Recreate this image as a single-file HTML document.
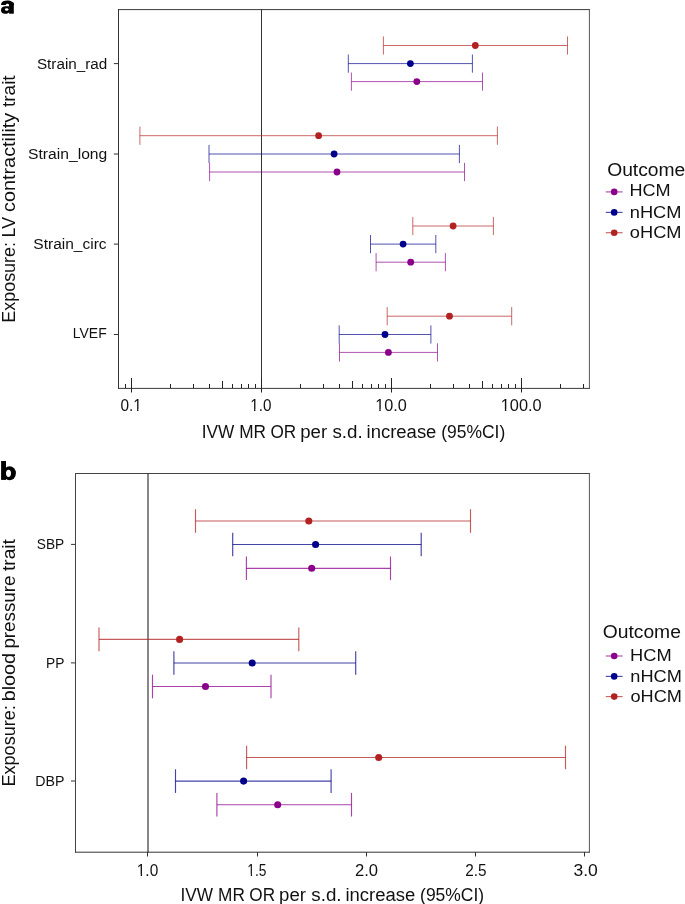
<!DOCTYPE html>
<html><head><meta charset="utf-8"><style>html,body{margin:0;padding:0;background:#fff;width:685px;height:904px;overflow:hidden}</style></head>
<body>
<svg width="685" height="904" viewBox="0 0 685 904" style="display:block;font-family:'Liberation Sans', sans-serif;will-change:transform">
<rect width="685" height="904" fill="#fff"/>
<g fill="#000"><rect x="9.1" y="2.6" width="4.7" height="11.1"/><path d="M1.1,5.1 L1.1,4.0 C1.7,1.6 4.1,0.6 7.3,0.6 C11.3,0.6 13.8,2.0 13.8,5.6 L9.1,5.6 C9.1,4.3 8.5,3.7 7.3,3.7 C6.2,3.7 5.9,4.4 5.8,5.1 Z"/><path d="M9.4,6.3 L5.6,6.3 C2.6,6.3 1.0,7.9 1.0,10.2 C1.0,12.5 2.6,13.8 5.3,13.8 C7.3,13.8 8.7,13.0 9.4,12.0 Z"/><ellipse cx="6.7" cy="9.6" rx="1.75" ry="1.25" fill="#fff"/></g>
<g stroke-width="1" stroke-linecap="square"><line x1="118.5" y1="9.6" x2="589.4" y2="9.6" stroke="#3a3a3a"/><line x1="118.5" y1="388.4" x2="589.4" y2="388.4" stroke="#3a3a3a"/><line x1="118.5" y1="9.6" x2="118.5" y2="388.4" stroke="#333"/><line x1="589.4" y1="9.6" x2="589.4" y2="388.4" stroke="#555"/></g>
<line x1="261.5" y1="9.5" x2="261.5" y2="388.5" stroke="#333333" stroke-width="1"/>
<g stroke="#222" stroke-width="1"><line x1="125.5" y1="384" x2="125.5" y2="388"/><line x1="131.5" y1="378" x2="131.5" y2="392.5"/><line x1="170.5" y1="384" x2="170.5" y2="388"/><line x1="193.5" y1="384" x2="193.5" y2="388"/><line x1="209.5" y1="384" x2="209.5" y2="388"/><line x1="222.5" y1="381" x2="222.5" y2="388"/><line x1="232.5" y1="384" x2="232.5" y2="388"/><line x1="241.5" y1="384" x2="241.5" y2="388"/><line x1="248.5" y1="384" x2="248.5" y2="388"/><line x1="255.5" y1="384" x2="255.5" y2="388"/><line x1="261.5" y1="378" x2="261.5" y2="392.5"/><line x1="300.5" y1="384" x2="300.5" y2="388"/><line x1="323.5" y1="384" x2="323.5" y2="388"/><line x1="339.5" y1="384" x2="339.5" y2="388"/><line x1="352.5" y1="381" x2="352.5" y2="388"/><line x1="362.5" y1="384" x2="362.5" y2="388"/><line x1="371.5" y1="384" x2="371.5" y2="388"/><line x1="378.5" y1="384" x2="378.5" y2="388"/><line x1="385.5" y1="384" x2="385.5" y2="388"/><line x1="391.5" y1="378" x2="391.5" y2="392.5"/><line x1="430.5" y1="384" x2="430.5" y2="388"/><line x1="453.5" y1="384" x2="453.5" y2="388"/><line x1="469.5" y1="384" x2="469.5" y2="388"/><line x1="482.5" y1="381" x2="482.5" y2="388"/><line x1="492.5" y1="384" x2="492.5" y2="388"/><line x1="501.5" y1="384" x2="501.5" y2="388"/><line x1="508.5" y1="384" x2="508.5" y2="388"/><line x1="515.5" y1="384" x2="515.5" y2="388"/><line x1="521.5" y1="378" x2="521.5" y2="392.5"/><line x1="560.5" y1="384" x2="560.5" y2="388"/><line x1="583.5" y1="384" x2="583.5" y2="388"/></g>
<g stroke="#333333" stroke-width="1"><line x1="113.8" y1="63.6" x2="118" y2="63.6"/><line x1="113.8" y1="154.0" x2="118" y2="154.0"/><line x1="113.8" y1="244.1" x2="118" y2="244.1"/><line x1="113.8" y1="334.5" x2="118" y2="334.5"/></g>
<text x="36.91" y="68.60" font-size="15.20" font-weight="normal" textLength="70.38" lengthAdjust="spacingAndGlyphs" fill="#111">Strain_rad</text>
<text x="28.09" y="158.60" font-size="15.20" font-weight="normal" textLength="79.22" lengthAdjust="spacingAndGlyphs" fill="#111">Strain_long</text>
<text x="33.30" y="248.60" font-size="15.20" font-weight="normal" textLength="73.31" lengthAdjust="spacingAndGlyphs" fill="#111">Strain_circ</text>
<text x="72.79" y="338.40" font-size="15.20" font-weight="normal" textLength="33.96" lengthAdjust="spacingAndGlyphs" fill="#111">LVEF</text>
<text x="120.40" y="410.60" font-size="16.00" font-weight="normal" textLength="21.35" lengthAdjust="spacingAndGlyphs" fill="#111">0.1</text><rect x="133.00" y="409" width="4.05" height="3" fill="#fff"/><rect x="138.45" y="409" width="2.55" height="3" fill="#fff"/>
<text x="250.24" y="410.60" font-size="16.00" font-weight="normal" textLength="21.15" lengthAdjust="spacingAndGlyphs" fill="#111">1.0</text><rect x="250.00" y="409" width="4.05" height="3" fill="#fff"/><rect x="255.43" y="409" width="2.57" height="3" fill="#fff"/>
<text x="375.16" y="410.60" font-size="16.00" font-weight="normal" textLength="31.57" lengthAdjust="spacingAndGlyphs" fill="#111">10.0</text><rect x="375.00" y="409" width="4.22" height="3" fill="#fff"/><rect x="380.70" y="409" width="3.30" height="3" fill="#fff"/>
<text x="500.76" y="410.60" font-size="16.00" font-weight="normal" textLength="40.88" lengthAdjust="spacingAndGlyphs" fill="#111">100.0</text><rect x="501.00" y="409" width="3.84" height="3" fill="#fff"/><rect x="506.33" y="409" width="3.67" height="3" fill="#fff"/>
<text x="201.71" y="438.10" font-size="18.00" font-weight="normal" textLength="32.55" lengthAdjust="spacingAndGlyphs" fill="#111">IVW</text><text x="239.19" y="438.10" font-size="18.00" font-weight="normal" textLength="26.81" lengthAdjust="spacingAndGlyphs" fill="#111">MR</text><text x="270.49" y="438.10" font-size="18.00" font-weight="normal" textLength="25.71" lengthAdjust="spacingAndGlyphs" fill="#111">OR</text><text x="300.20" y="438.10" font-size="18.00" font-weight="normal" textLength="26.91" lengthAdjust="spacingAndGlyphs" fill="#111">per</text><text x="332.48" y="438.10" font-size="18.00" font-weight="normal" textLength="30.23" lengthAdjust="spacingAndGlyphs" fill="#111">s.d.</text><text x="366.56" y="438.10" font-size="18.00" font-weight="normal" textLength="69.86" lengthAdjust="spacingAndGlyphs" fill="#111">increase</text><text x="441.22" y="438.10" font-size="18.00" font-weight="normal" textLength="64.07" lengthAdjust="spacingAndGlyphs" fill="#111">(95%CI)</text>
<text transform="rotate(-90)" x="-322.77" y="14.80" font-size="18.00" textLength="80.81" lengthAdjust="spacingAndGlyphs" fill="#111">Exposure:</text><text transform="rotate(-90)" x="-237.38" y="14.80" font-size="18.00" textLength="20.55" lengthAdjust="spacingAndGlyphs" fill="#111">LV</text><text transform="rotate(-90)" x="-212.04" y="14.80" font-size="18.00" textLength="99.28" lengthAdjust="spacingAndGlyphs" fill="#111">contractility</text><text transform="rotate(-90)" x="-106.99" y="14.80" font-size="18.00" textLength="31.63" lengthAdjust="spacingAndGlyphs" fill="#111">trait</text>
<g stroke="#B22222" stroke-opacity="0.68" stroke-width="1.0" fill="none"><line x1="383.40" y1="45.50" x2="567.50" y2="45.50"/><line x1="383.40" y1="36.40" x2="383.40" y2="54.60"/><line x1="567.50" y1="36.40" x2="567.50" y2="54.60"/></g><circle cx="475.30" cy="45.50" r="3.4" fill="#B22222"/>
<g stroke="#00008B" stroke-opacity="0.68" stroke-width="1.0" fill="none"><line x1="348.30" y1="63.60" x2="472.40" y2="63.60"/><line x1="348.30" y1="54.50" x2="348.30" y2="72.70"/><line x1="472.40" y1="54.50" x2="472.40" y2="72.70"/></g><circle cx="410.40" cy="63.60" r="3.4" fill="#00008B"/>
<g stroke="#8B008B" stroke-opacity="0.68" stroke-width="1.0" fill="none"><line x1="351.40" y1="81.60" x2="482.50" y2="81.60"/><line x1="351.40" y1="72.50" x2="351.40" y2="90.70"/><line x1="482.50" y1="72.50" x2="482.50" y2="90.70"/></g><circle cx="416.80" cy="81.60" r="3.4" fill="#8B008B"/>
<g stroke="#B22222" stroke-opacity="0.68" stroke-width="1.0" fill="none"><line x1="139.90" y1="135.70" x2="497.40" y2="135.70"/><line x1="139.90" y1="126.60" x2="139.90" y2="144.80"/><line x1="497.40" y1="126.60" x2="497.40" y2="144.80"/></g><circle cx="318.60" cy="135.70" r="3.4" fill="#B22222"/>
<g stroke="#00008B" stroke-opacity="0.68" stroke-width="1.0" fill="none"><line x1="209.00" y1="154.00" x2="459.40" y2="154.00"/><line x1="209.00" y1="144.90" x2="209.00" y2="163.10"/><line x1="459.40" y1="144.90" x2="459.40" y2="163.10"/></g><circle cx="334.10" cy="154.00" r="3.4" fill="#00008B"/>
<g stroke="#8B008B" stroke-opacity="0.68" stroke-width="1.0" fill="none"><line x1="209.60" y1="172.00" x2="464.50" y2="172.00"/><line x1="209.60" y1="162.90" x2="209.60" y2="181.10"/><line x1="464.50" y1="162.90" x2="464.50" y2="181.10"/></g><circle cx="337.00" cy="172.00" r="3.4" fill="#8B008B"/>
<g stroke="#B22222" stroke-opacity="0.68" stroke-width="1.0" fill="none"><line x1="412.80" y1="226.00" x2="493.40" y2="226.00"/><line x1="412.80" y1="216.90" x2="412.80" y2="235.10"/><line x1="493.40" y1="216.90" x2="493.40" y2="235.10"/></g><circle cx="453.10" cy="226.00" r="3.4" fill="#B22222"/>
<g stroke="#00008B" stroke-opacity="0.68" stroke-width="1.0" fill="none"><line x1="370.50" y1="244.10" x2="435.80" y2="244.10"/><line x1="370.50" y1="235.00" x2="370.50" y2="253.20"/><line x1="435.80" y1="235.00" x2="435.80" y2="253.20"/></g><circle cx="403.10" cy="244.10" r="3.4" fill="#00008B"/>
<g stroke="#8B008B" stroke-opacity="0.68" stroke-width="1.0" fill="none"><line x1="376.10" y1="262.20" x2="445.40" y2="262.20"/><line x1="376.10" y1="253.10" x2="376.10" y2="271.30"/><line x1="445.40" y1="253.10" x2="445.40" y2="271.30"/></g><circle cx="410.70" cy="262.20" r="3.4" fill="#8B008B"/>
<g stroke="#B22222" stroke-opacity="0.68" stroke-width="1.0" fill="none"><line x1="387.20" y1="316.20" x2="511.70" y2="316.20"/><line x1="387.20" y1="307.10" x2="387.20" y2="325.30"/><line x1="511.70" y1="307.10" x2="511.70" y2="325.30"/></g><circle cx="449.50" cy="316.20" r="3.4" fill="#B22222"/>
<g stroke="#00008B" stroke-opacity="0.68" stroke-width="1.0" fill="none"><line x1="339.20" y1="334.50" x2="430.90" y2="334.50"/><line x1="339.20" y1="325.40" x2="339.20" y2="343.60"/><line x1="430.90" y1="325.40" x2="430.90" y2="343.60"/></g><circle cx="385.00" cy="334.50" r="3.4" fill="#00008B"/>
<g stroke="#8B008B" stroke-opacity="0.68" stroke-width="1.0" fill="none"><line x1="339.50" y1="352.40" x2="437.50" y2="352.40"/><line x1="339.50" y1="343.30" x2="339.50" y2="361.50"/><line x1="437.50" y1="343.30" x2="437.50" y2="361.50"/></g><circle cx="388.40" cy="352.40" r="3.4" fill="#8B008B"/>
<text x="607.19" y="175.70" font-size="18.00" font-weight="normal" textLength="78.07" lengthAdjust="spacingAndGlyphs" fill="#111">Outcome</text><line x1="605.8" y1="191.9" x2="622.6" y2="191.9" stroke="#8B008B" stroke-opacity="0.68" stroke-width="1.2"/><circle cx="614.2" cy="191.9" r="3.3" fill="#8B008B"/><text x="629.52" y="195.80" font-size="16.90" font-weight="normal" textLength="41.17" lengthAdjust="spacingAndGlyphs" fill="#111">HCM</text><line x1="605.8" y1="212.4" x2="622.6" y2="212.4" stroke="#00008B" stroke-opacity="0.68" stroke-width="1.2"/><circle cx="614.2" cy="212.4" r="3.3" fill="#00008B"/><text x="629.79" y="217.60" font-size="16.90" font-weight="normal" textLength="51.71" lengthAdjust="spacingAndGlyphs" fill="#111">nHCM</text><line x1="605.8" y1="232.7" x2="622.6" y2="232.7" stroke="#B22222" stroke-opacity="0.68" stroke-width="1.2"/><circle cx="614.2" cy="232.7" r="3.3" fill="#B22222"/><text x="629.83" y="237.50" font-size="16.90" font-weight="normal" textLength="51.66" lengthAdjust="spacingAndGlyphs" fill="#111">oHCM</text>
<g fill="#000"><rect x="1.1" y="461.0" width="4.9" height="18.9"/><ellipse cx="9.6" cy="473.2" rx="6.3" ry="7.0"/><ellipse cx="8.5" cy="473.3" rx="2.5" ry="3.6" fill="#fff"/></g>
<g stroke-width="1" stroke-linecap="square"><line x1="75.5" y1="473.5" x2="589.4" y2="473.5" stroke="#444"/><line x1="75.5" y1="852.2" x2="589.4" y2="852.2" stroke="#333"/><line x1="75.5" y1="473.5" x2="75.5" y2="852.2" stroke="#444"/><line x1="589.4" y1="473.5" x2="589.4" y2="852.2" stroke="#555"/></g>
<line x1="148" y1="473.5" x2="148" y2="852.5" stroke="#111" stroke-width="1"/>
<g stroke="#333333" stroke-width="1"><line x1="147.5" y1="852" x2="147.5" y2="856.5"/><line x1="257.5" y1="852" x2="257.5" y2="856.5"/><line x1="366.5" y1="852" x2="366.5" y2="856.5"/><line x1="475.5" y1="852" x2="475.5" y2="856.5"/><line x1="584.5" y1="852" x2="584.5" y2="856.5"/></g>
<g stroke="#333333" stroke-width="1"><line x1="71" y1="544.4" x2="75" y2="544.4"/><line x1="71" y1="662.9" x2="75" y2="662.9"/><line x1="71" y1="781.0" x2="75" y2="781.0"/></g>
<text x="36.78" y="549.20" font-size="15.00" font-weight="normal" textLength="27.45" lengthAdjust="spacingAndGlyphs" fill="#111">SBP</text>
<text x="46.07" y="667.60" font-size="15.00" font-weight="normal" textLength="18.35" lengthAdjust="spacingAndGlyphs" fill="#111">PP</text>
<text x="35.23" y="785.70" font-size="15.00" font-weight="normal" textLength="29.21" lengthAdjust="spacingAndGlyphs" fill="#111">DBP</text>
<text x="136.83" y="875.80" font-size="16.00" font-weight="normal" textLength="21.37" lengthAdjust="spacingAndGlyphs" fill="#111">1.0</text><rect x="137.00" y="874" width="3.67" height="3" fill="#fff"/><rect x="142.08" y="874" width="2.92" height="3" fill="#fff"/>
<text x="247.35" y="875.80" font-size="16.00" font-weight="normal" textLength="19.13" lengthAdjust="spacingAndGlyphs" fill="#111">1.5</text><rect x="247.00" y="874" width="3.79" height="3" fill="#fff"/><rect x="252.05" y="874" width="2.95" height="3" fill="#fff"/>
<text x="354.96" y="875.80" font-size="16.00" font-weight="normal" textLength="23.08" lengthAdjust="spacingAndGlyphs" fill="#111">2.0</text>
<text x="465.33" y="875.80" font-size="16.00" font-weight="normal" textLength="21.32" lengthAdjust="spacingAndGlyphs" fill="#111">2.5</text>
<text x="573.53" y="875.80" font-size="16.00" font-weight="normal" textLength="24.35" lengthAdjust="spacingAndGlyphs" fill="#111">3.0</text>
<text x="180.56" y="900.60" font-size="18.00" font-weight="normal" textLength="32.55" lengthAdjust="spacingAndGlyphs" fill="#111">IVW</text><text x="218.04" y="900.60" font-size="18.00" font-weight="normal" textLength="26.81" lengthAdjust="spacingAndGlyphs" fill="#111">MR</text><text x="249.34" y="900.60" font-size="18.00" font-weight="normal" textLength="25.71" lengthAdjust="spacingAndGlyphs" fill="#111">OR</text><text x="279.05" y="900.60" font-size="18.00" font-weight="normal" textLength="26.91" lengthAdjust="spacingAndGlyphs" fill="#111">per</text><text x="311.33" y="900.60" font-size="18.00" font-weight="normal" textLength="30.23" lengthAdjust="spacingAndGlyphs" fill="#111">s.d.</text><text x="345.41" y="900.60" font-size="18.00" font-weight="normal" textLength="69.86" lengthAdjust="spacingAndGlyphs" fill="#111">increase</text><text x="420.07" y="900.60" font-size="18.00" font-weight="normal" textLength="64.07" lengthAdjust="spacingAndGlyphs" fill="#111">(95%CI)</text>
<text transform="rotate(-90)" x="-786.58" y="14.80" font-size="18.00" textLength="81.44" lengthAdjust="spacingAndGlyphs" fill="#111">Exposure:</text><text transform="rotate(-90)" x="-701.37" y="14.80" font-size="18.00" textLength="48.35" lengthAdjust="spacingAndGlyphs" fill="#111">blood</text><text transform="rotate(-90)" x="-648.61" y="14.80" font-size="18.00" textLength="73.15" lengthAdjust="spacingAndGlyphs" fill="#111">pressure</text><text transform="rotate(-90)" x="-571.09" y="14.80" font-size="18.00" textLength="32.03" lengthAdjust="spacingAndGlyphs" fill="#111">trait</text>
<g stroke="#B22222" stroke-opacity="0.74" stroke-width="1.15" fill="none"><line x1="195.50" y1="521.00" x2="470.50" y2="521.00"/><line x1="195.50" y1="509.20" x2="195.50" y2="532.80"/><line x1="470.50" y1="509.20" x2="470.50" y2="532.80"/></g><circle cx="308.80" cy="521.00" r="3.55" fill="#B22222"/>
<g stroke="#00008B" stroke-opacity="0.74" stroke-width="1.15" fill="none"><line x1="232.70" y1="544.50" x2="421.20" y2="544.50"/><line x1="232.70" y1="532.70" x2="232.70" y2="556.30"/><line x1="421.20" y1="532.70" x2="421.20" y2="556.30"/></g><circle cx="315.60" cy="544.50" r="3.55" fill="#00008B"/>
<g stroke="#8B008B" stroke-opacity="0.74" stroke-width="1.15" fill="none"><line x1="246.40" y1="568.30" x2="390.50" y2="568.30"/><line x1="246.40" y1="556.50" x2="246.40" y2="580.10"/><line x1="390.50" y1="556.50" x2="390.50" y2="580.10"/></g><circle cx="311.70" cy="568.30" r="3.55" fill="#8B008B"/>
<g stroke="#B22222" stroke-opacity="0.74" stroke-width="1.15" fill="none"><line x1="99.00" y1="639.40" x2="298.80" y2="639.40"/><line x1="99.00" y1="627.60" x2="99.00" y2="651.20"/><line x1="298.80" y1="627.60" x2="298.80" y2="651.20"/></g><circle cx="179.60" cy="639.40" r="3.55" fill="#B22222"/>
<g stroke="#00008B" stroke-opacity="0.74" stroke-width="1.15" fill="none"><line x1="173.90" y1="663.00" x2="355.70" y2="663.00"/><line x1="173.90" y1="651.20" x2="173.90" y2="674.80"/><line x1="355.70" y1="651.20" x2="355.70" y2="674.80"/></g><circle cx="252.20" cy="663.00" r="3.55" fill="#00008B"/>
<g stroke="#8B008B" stroke-opacity="0.74" stroke-width="1.15" fill="none"><line x1="152.50" y1="686.50" x2="271.00" y2="686.50"/><line x1="152.50" y1="674.70" x2="152.50" y2="698.30"/><line x1="271.00" y1="674.70" x2="271.00" y2="698.30"/></g><circle cx="205.50" cy="686.50" r="3.55" fill="#8B008B"/>
<g stroke="#B22222" stroke-opacity="0.74" stroke-width="1.15" fill="none"><line x1="246.60" y1="757.50" x2="565.50" y2="757.50"/><line x1="246.60" y1="745.70" x2="246.60" y2="769.30"/><line x1="565.50" y1="745.70" x2="565.50" y2="769.30"/></g><circle cx="378.70" cy="757.50" r="3.55" fill="#B22222"/>
<g stroke="#00008B" stroke-opacity="0.74" stroke-width="1.15" fill="none"><line x1="175.50" y1="781.10" x2="331.10" y2="781.10"/><line x1="175.50" y1="769.30" x2="175.50" y2="792.90"/><line x1="331.10" y1="769.30" x2="331.10" y2="792.90"/></g><circle cx="243.60" cy="781.10" r="3.55" fill="#00008B"/>
<g stroke="#8B008B" stroke-opacity="0.74" stroke-width="1.15" fill="none"><line x1="216.90" y1="804.70" x2="351.50" y2="804.70"/><line x1="216.90" y1="792.90" x2="216.90" y2="816.50"/><line x1="351.50" y1="792.90" x2="351.50" y2="816.50"/></g><circle cx="277.70" cy="804.70" r="3.55" fill="#8B008B"/>
<text x="602.79" y="637.90" font-size="18.00" font-weight="normal" textLength="78.07" lengthAdjust="spacingAndGlyphs" fill="#111">Outcome</text><line x1="605.8" y1="656.0" x2="622.6" y2="656.0" stroke="#8B008B" stroke-opacity="0.68" stroke-width="1.2"/><circle cx="614.2" cy="656.0" r="3.3" fill="#8B008B"/><text x="630.10" y="660.80" font-size="16.90" font-weight="normal" textLength="41.60" lengthAdjust="spacingAndGlyphs" fill="#111">HCM</text><line x1="605.8" y1="676.4" x2="622.6" y2="676.4" stroke="#00008B" stroke-opacity="0.68" stroke-width="1.2"/><circle cx="614.2" cy="676.4" r="3.3" fill="#00008B"/><text x="630.39" y="681.80" font-size="16.90" font-weight="normal" textLength="51.50" lengthAdjust="spacingAndGlyphs" fill="#111">nHCM</text><line x1="605.8" y1="696.6" x2="622.6" y2="696.6" stroke="#B22222" stroke-opacity="0.68" stroke-width="1.2"/><circle cx="614.2" cy="696.6" r="3.3" fill="#B22222"/><text x="630.44" y="701.80" font-size="16.90" font-weight="normal" textLength="51.45" lengthAdjust="spacingAndGlyphs" fill="#111">oHCM</text>
</svg>
</body></html>
